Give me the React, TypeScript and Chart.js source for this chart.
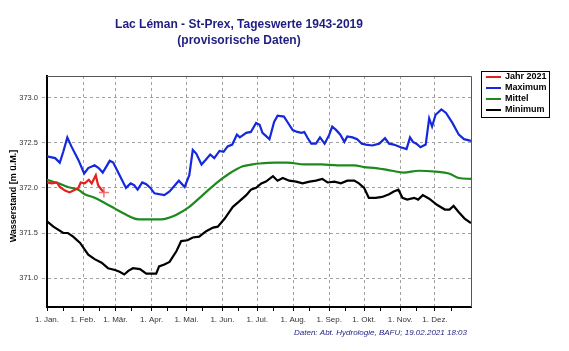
import React, { useEffect, useRef } from "react";
import { Chart, registerables } from "chart.js";

Chart.register(...registerables);

// ---- Data (day of year 0..365, Wasserstand m ü.M.) ----
const monthStartDays = [0, 31, 59, 90, 120, 151, 181, 212, 243, 273, 304, 334];
const monthLabels = ["1. Jan.", "1. Feb.", "1. Mär.", "1. Apr.", "1. Mai.", "1. Jun.", "1. Jul.", "1. Aug.", "1. Sep.", "1. Okt.", "1. Nov.", "1. Dez."];
const midMonthDays = [14, 45, 73, 104, 134, 165, 195, 226, 257, 287, 318, 348];
const yTickValues = [371.0, 371.5, 372.0, 372.5, 373.0];

const jahrDays = [0, 4, 8.5, 11, 15.5, 19.5, 24, 27, 29, 32.5, 36, 38.5, 42, 44, 47, 49];
const jahrValues = [372.06, 372.05, 372.06, 372.01, 371.97, 371.95, 371.98, 372.0, 372.06, 372.05, 372.09, 372.05, 372.14, 372.03, 371.98, 371.95];

const maxDays = [
  0, 7, 11, 14, 17.5, 21, 27, 32, 35.5, 41,
  44.5, 48, 54, 57, 62.5, 68, 72, 75, 78, 82,
  85.5, 89, 92.5, 101, 105.5, 113.5, 118.5, 122.5, 125.5, 128.5,
  133, 136.5, 140.5, 144, 148.5, 152, 155.5, 159.5, 163.5, 166,
  171.5, 175.5, 180, 183, 185.5, 191.5, 195.5, 198.5, 204, 207,
  211.5, 215.5, 219, 221.5, 224.5, 227.5, 231.5, 235, 239, 243,
  245.5, 249, 252.5, 256, 258.5, 263, 267, 271, 274.5, 280,
  286, 291, 294.5, 298.5, 304.5, 309.5, 312.5, 315, 318, 321.5,
  326, 329, 331.5, 334.5, 339.5, 343.5, 349, 354.5, 359, 365,
];
const maxValues = [
  372.35, 372.33, 372.28, 372.40, 372.56, 372.46, 372.31, 372.16, 372.22, 372.25,
  372.22, 372.17, 372.30, 372.28, 372.14, 372.00, 372.05, 372.03, 371.98, 372.06,
  372.04, 372.00, 371.94, 371.92, 371.96, 372.08, 372.01, 372.14, 372.42, 372.38,
  372.26, 372.31, 372.37, 372.33, 372.41, 372.40, 372.46, 372.48, 372.59, 372.56,
  372.61, 372.62, 372.72, 372.70, 372.61, 372.54, 372.73, 372.80, 372.79, 372.73,
  372.64, 372.62, 372.61, 372.62, 372.55, 372.49, 372.49, 372.56, 372.49, 372.59,
  372.68, 372.64, 372.59, 372.51, 372.57, 372.56, 372.54, 372.49, 372.48, 372.47,
  372.49, 372.55, 372.49, 372.48, 372.45, 372.43, 372.56, 372.51, 372.49, 372.45,
  372.48, 372.77, 372.68, 372.81, 372.87, 372.83, 372.72, 372.59, 372.54, 372.52,
];

const mittelDays = [0, 10, 18, 27, 32.5, 41, 50, 58.5, 67, 75.5, 84, 92.5, 102.5, 111, 122.5, 134, 145.5, 157, 168.5, 177, 183, 196, 207, 221.5, 236, 250, 264.5, 273, 283, 297, 307, 320, 334.5, 346, 354.5, 365];
const mittelValues = [372.09, 372.05, 372.01, 371.98, 371.93, 371.89, 371.83, 371.77, 371.71, 371.66, 371.65, 371.65, 371.66, 371.70, 371.79, 371.92, 372.05, 372.16, 372.24, 372.26, 372.27, 372.28, 372.28, 372.26, 372.26, 372.25, 372.25, 372.23, 372.22, 372.19, 372.17, 372.19, 372.18, 372.16, 372.11, 372.10];

const minDays = [
  0, 5.5, 14, 18, 22.5, 28.5, 35.5, 41, 47, 52.5,
  58.5, 62.5, 66.5, 70, 74, 80, 85.5, 94, 96.5, 101,
  105.5, 111.5, 115.5, 121, 125.5, 131, 137, 143, 147, 153,
  160, 165.5, 171.5, 175.5, 180, 184.5, 188.5, 194.5, 198.5, 203,
  208.5, 214.5, 220, 226, 231.5, 237, 241.5, 247.5, 253, 258.5,
  264.5, 268.5, 273, 277, 283, 288.5, 294.5, 298.5, 302.5, 306,
  310, 316, 319.5, 323.5, 329, 336, 342.5, 346.5, 350, 354.5,
  359.5, 365,
];
const minValues = [
  371.63, 371.57, 371.50, 371.50, 371.46, 371.39, 371.26, 371.21, 371.17, 371.11,
  371.09, 371.07, 371.04, 371.08, 371.11, 371.10, 371.05, 371.05, 371.13, 371.15,
  371.18, 371.30, 371.41, 371.42, 371.45, 371.46, 371.52, 371.56, 371.57, 371.66,
  371.79, 371.85, 371.92, 371.98, 372.00, 372.05, 372.07, 372.13, 372.08, 372.11,
  372.08, 372.07, 372.05, 372.07, 372.08, 372.10, 372.06, 372.07, 372.05, 372.08,
  372.08, 372.05, 372.00, 371.89, 371.89, 371.90, 371.93, 371.96, 371.98, 371.89,
  371.87, 371.89, 371.87, 371.92, 371.88, 371.81, 371.76, 371.76, 371.80, 371.73,
  371.66, 371.61,
];

const titleLines = ["Lac Léman - St-Prex, Tageswerte 1943-2019", "(provisorische Daten)"];
const yAxisTitle = "Wasserstand [m ü.M.]";
const footerText = "Daten: Abt. Hydrologie, BAFU; 19.02.2021 18:03";

const COLORS = {
  jahr: "#e41f1f",
  max: "#1428dc",
  mittel: "#1e8a1e",
  min: "#000000",
  navy: "#1e1e80",
};
const FONT = "'Liberation Sans', Arial, sans-serif";

const toXY = (days: number[], vals: number[]) => days.map((d, i) => ({ x: d, y: vals[i] }));

const legendItems = [
  { label: "Jahr 2021", color: COLORS.jahr },
  { label: "Maximum", color: COLORS.max },
  { label: "Mittel", color: COLORS.mittel },
  { label: "Minimum", color: COLORS.min },
];

const decorPlugin = {
  id: "decor",
  afterDraw(chart: any) {
    const { ctx, chartArea } = chart;
    const { left, right, top, bottom } = chartArea;
    ctx.save();
    // frame top/right
    ctx.strokeStyle = "#555";
    ctx.lineWidth = 1;
    ctx.setLineDash([]);
    ctx.beginPath();
    ctx.moveTo(left, top + 0.5);
    ctx.lineTo(right + 0.5, top + 0.5);
    ctx.lineTo(right + 0.5, bottom);
    ctx.stroke();

    // title
    ctx.fillStyle = COLORS.navy;
    ctx.font = `bold 12px ${FONT}`;
    ctx.textAlign = "center";
    ctx.textBaseline = "middle";
    ctx.fillText(titleLines[0], 239, 25);
    ctx.fillText(titleLines[1], 239, 41);

    // y axis title
    ctx.save();
    ctx.translate(14, 196);
    ctx.rotate(-Math.PI / 2);
    ctx.fillStyle = "#000";
    ctx.font = `bold 9px ${FONT}`;
    ctx.fillText(yAxisTitle, 0, 0);
    ctx.restore();

    // legend
    ctx.strokeStyle = "#000";
    ctx.lineWidth = 1;
    ctx.strokeRect(481.5, 71.5, 68, 46);
    ctx.font = `bold 9px ${FONT}`;
    ctx.textAlign = "left";
    legendItems.forEach((it, i) => {
      const y = 77 + i * 11;
      ctx.strokeStyle = it.color;
      ctx.lineWidth = 2;
      ctx.beginPath();
      ctx.moveTo(486, y);
      ctx.lineTo(501, y);
      ctx.stroke();
      ctx.fillStyle = "#000";
      ctx.fillText(it.label, 505, y);
    });

    // footer
    ctx.fillStyle = COLORS.navy;
    ctx.font = `italic 8px ${FONT}`;
    ctx.textAlign = "right";
    ctx.fillText(footerText, 467, 333);
    ctx.restore();
  },
};

export default function App() {
  const canvasRef = useRef<HTMLCanvasElement | null>(null);

  useEffect(() => {
    document.body.style.margin = "0";
    const canvas = canvasRef.current;
    if (!canvas) return;
    const lastJahr = jahrDays.length - 1;
    const chart = new Chart(canvas, {
      type: "line",
      data: {
        datasets: [
          {
            label: "Jahr 2021",
            data: toXY(jahrDays, jahrValues),
            borderColor: COLORS.jahr,
            borderWidth: 2.2,
            pointStyle: "cross",
            pointRadius: (c: any) => (c.dataIndex === lastJahr ? 5 : 0),
            pointBorderColor: "rgba(235,95,95,0.85)",
            pointBorderWidth: 1.5,
          },
          {
            label: "Maximum",
            data: toXY(maxDays, maxValues),
            borderColor: COLORS.max,
            borderWidth: 2.2,
            pointRadius: 0,
          },
          {
            label: "Mittel",
            data: toXY(mittelDays, mittelValues),
            borderColor: COLORS.mittel,
            borderWidth: 2.2,
            pointRadius: 0,
            cubicInterpolationMode: "monotone",
          },
          {
            label: "Minimum",
            data: toXY(minDays, minValues),
            borderColor: COLORS.min,
            borderWidth: 2.2,
            pointRadius: 0,
          },
        ],
      } as any,
      options: {
        responsive: false,
        animation: false,
        layout: { padding: { top: 76, right: 98, left: 0, bottom: 0 } },
        plugins: {
          legend: { display: false },
          title: { display: false },
          tooltip: { enabled: false },
        },
        elements: { line: { tension: 0 } },
        scales: {
          x: {
            type: "linear",
            min: 0,
            max: 365,
            afterBuildTicks: (scale: any) => {
              scale.ticks = [...monthStartDays, ...midMonthDays]
                .sort((a, b) => a - b)
                .map((v) => ({ value: v }));
            },
            afterFit: (scale: any) => {
              scale.height = 44;
            },
            ticks: {
              autoSkip: false,
              maxRotation: 0,
              padding: 4,
              color: "#333",
              font: { family: FONT, size: 8 },
              callback: (v: any) => {
                const i = monthStartDays.indexOf(Number(v));
                return i >= 0 ? monthLabels[i] : "";
              },
            },
            grid: {
              color: (c: any) =>
                c.tick && monthStartDays.includes(c.tick.value) ? "#a0a0a0" : "rgba(0,0,0,0)",
              tickColor: "#000",
              tickLength: 4,
              tickBorderDash: [],
              lineWidth: 1,
            },
            border: { display: true, color: "#000", width: 2, dash: [3, 3] },
          },
          y: {
            type: "linear",
            min: 370.68,
            max: 373.24,
            afterBuildTicks: (scale: any) => {
              scale.ticks = yTickValues.map((v) => ({ value: v }));
            },
            afterFit: (scale: any) => {
              scale.width = 47;
            },
            ticks: {
              padding: 4,
              color: "#333",
              font: { family: FONT, size: 7.5 },
              callback: (v: any) => Number(v).toFixed(1),
            },
            grid: {
              color: "#a0a0a0",
              tickColor: "#a0a0a0",
              tickLength: 5,
              tickBorderDash: [3, 3],
              lineWidth: 1,
            },
            border: { display: true, color: "#000", width: 2, dash: [3, 3] },
          },
        },
      } as any,
      plugins: [decorPlugin],
    });
    return () => chart.destroy();
  }, []);

  return (
    <div style={{ width: 569, height: 351 }}>
      <canvas ref={canvasRef} width={569} height={351} style={{ display: "block", width: 569, height: 351 }} />
    </div>
  );
}
